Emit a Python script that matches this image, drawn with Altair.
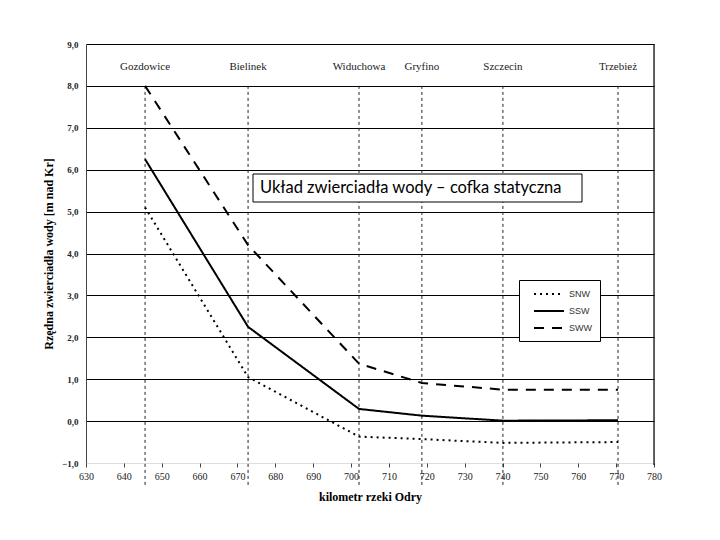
import altair as alt
import pandas as pd

towns = ["Gozdowice", "Bielinek", "Widuchowa", "Gryfino", "Szczecin", "Trzebież"]
town_km = [645.6, 672.8, 702.1, 718.7, 740.1, 770.5]
snw = [5.1, 1.05, -0.37, -0.43, -0.52, -0.5]
ssw = [6.25, 2.25, 0.29, 0.13, 0.01, 0.02]
sww = [8.0, 4.2, 1.37, 0.91, 0.75, 0.75]
series_names = ["SNW", "SSW", "SWW"]
x_ticks = list(range(630, 781, 10))
y_ticks = list(range(-1, 10))
x_domain = [630, 780]
y_domain = [-1, 9]
title_text = "Układ zwierciadła wody – cofka statyczna"

rows = []
for name, vals in zip(series_names, [snw, ssw, sww]):
    for t, k, v in zip(towns, town_km, vals):
        rows.append({"series": name, "town": t, "km": k, "value": v})
df = pd.DataFrame(rows)
towns_df = pd.DataFrame({"town": towns, "km": town_km, "value": [8.0] * 6, "bottom": [-1.55] * 6, "label_y": [8.45] * 6})

xscale = alt.Scale(domain=x_domain, nice=False, zero=False)
yscale = alt.Scale(domain=y_domain, nice=False, zero=False)

serif = "Liberation Serif"

x_axis = alt.Axis(
    values=x_ticks, title="kilometr rzeki Odry", titleFont=serif, titleFontSize=12,
    titleFontWeight="bold", titleColor="black", titlePadding=10,
    labelFont=serif, labelFontSize=10, labelColor="#222", labelPadding=4,
    labelOverlap=False, labelFlush=False,
    domain=False, ticks=True, tickSize=4, tickColor="#444",
    grid=False,
)
y_axis = alt.Axis(
    values=y_ticks, title="Rzędna zwierciadła wody [m nad Kr]", titleFont=serif,
    titleFontSize=12, titleFontWeight="bold", titleColor="black", titlePadding=6,
    labelFont=serif, labelFontSize=9, labelFontWeight="bold", labelColor="#222",
    labelPadding=8, ticks=False, domain=True, domainColor="#444",
    labelOverlap=False, labelFlush=False,
    labelExpr="replace(format(datum.value, '.1f'), '.', ',')",
    grid=True,
    gridColor={"condition": {"test": "datum.value === -1", "value": "transparent"}, "value": "black"},
)

X = alt.X("km:Q", scale=xscale, axis=x_axis, title="kilometr rzeki Odry")
Y = alt.Y("value:Q", scale=yscale, axis=y_axis, title="Rzędna zwierciadła wody [m nad Kr]")

border_df = pd.DataFrame({"km": [x_domain[1]], "value": [y_domain[0] - 0.05], "top": [y_domain[1]]})
right_border = alt.Chart(border_df).mark_rule(color="black", strokeWidth=1.2).encode(
    x=X, y=Y, y2="top:Q"
)

vlines = alt.Chart(towns_df).mark_rule(color="#222", strokeDash=[3, 3], strokeWidth=1).encode(
    x=X, y=Y, y2="bottom:Q",
)

town_labels = alt.Chart(towns_df).mark_text(font=serif, fontSize=11, color="#222", baseline="middle").encode(
    x=X,
    y=alt.Y("label_y:Q", scale=yscale, axis=y_axis, title="Rzędna zwierciadła wody [m nad Kr]"),
    text="town:N",
)

lines = alt.Chart(df).mark_line(color="black", strokeWidth=2).encode(
    x=X, y=Y,
    strokeDash=alt.StrokeDash(
        "series:N",
        scale=alt.Scale(domain=series_names, range=[[2, 4], [1, 0], [10, 8]]),
        legend=alt.Legend(
            title=None, orient="none", legendX=433, legendY=236,
            strokeColor="black", fillColor="white", padding=8,
            symbolType="M-3,0L3,0", symbolStrokeWidth=2, symbolStrokeColor="black",
            symbolSize=100, symbolOffset=16, labelFont="Liberation Sans", labelFontSize=9,
            labelColor="#333", labelOffset=14, rowPadding=6,
        ),
    ),
    detail="series:N",
)

box = alt.Chart(pd.DataFrame({"t": [title_text]})).mark_rect(fill="white", stroke="black", strokeWidth=1).encode(
    x=alt.value(167), x2=alt.value(496), y=alt.value(130), y2=alt.value(158)
)
box_text = alt.Chart(pd.DataFrame({"t": [title_text]})).mark_text(
    font="Lato", fontSize=16.5, align="left", baseline="middle", color="black"
).encode(x=alt.value(174), y=alt.value(144), text="t:N")

chart = alt.layer(vlines, town_labels, lines, box, box_text, right_border).properties(
    width=568, height=419, autosize="none",
    padding={"left": 78, "top": 36, "right": 58, "bottom": 69},
).configure_view(stroke=None).configure(background="white")

chart.save("out.html", embed_options={"renderer": "svg", "actions": False})
